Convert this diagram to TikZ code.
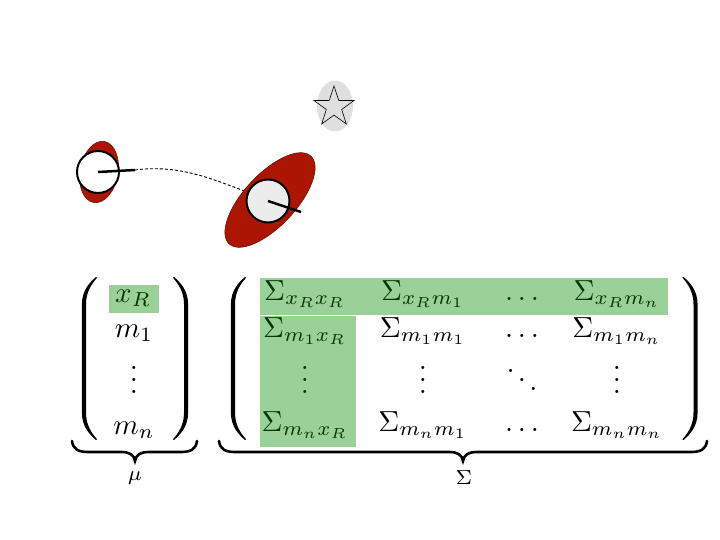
\documentclass[tikz,border=0pt]{standalone}
\usepackage{graphicx}
\usetikzlibrary{shapes.geometric}
\definecolor{robred}{RGB}{172,22,0}
\definecolor{robedge}{RGB}{95,12,0}
\definecolor{hl}{RGB}{0,141,0}
\newcommand{\BG}[1]{\scalebox{2.9}{$#1$}}
\newcommand{\myvd}{\vbox{\baselineskip4pt\lineskiplimit0pt\hbox{.}\hbox{.}\hbox{.}}}
\begin{document}
\begin{tikzpicture}[x=1pt,y=-1pt,
  ent/.style={anchor=base, inner sep=0pt, outer sep=0pt},
  lbl/.style={anchor=center, inner sep=0pt},
  hlbox/.style={fill=hl, fill opacity=0.4, draw=none},
  robellipse/.style={ellipse, draw=robedge, line width=0.5pt, fill=robred, inner sep=0pt},
  robbody/.style={circle, draw=black, line width=2pt, inner sep=0pt, minimum size=42pt},
  heading/.style={line width=2.5pt},
  trail/.style={dash pattern=on 3pt off 2pt, line width=0.9pt},
  bracestyle/.style={line width=2.6pt, line cap=round},
  lpar/.pic={\fill (6.5,-81.5) .. controls (0,-76) and (-7.6,-68) .. (-7.6,-54) -- (-7.6,54)
      .. controls (-7.6,68) and (0,76) .. (6.5,81.5) -- (7.6,80.8)
      .. controls (1.5,74) and (-3.5,66) .. (-3.5,54) -- (-3.5,-54)
      .. controls (-3.5,-66) and (1.5,-74) .. (7.6,-80.8) -- cycle;},
  rpar/.pic={\fill (-6.5,-81.5) .. controls (0,-76) and (7.6,-68) .. (7.6,-54) -- (7.6,54)
      .. controls (7.6,68) and (0,76) .. (-6.5,81.5) -- (-7.6,80.8)
      .. controls (-1.5,74) and (3.5,66) .. (3.5,54) -- (3.5,-54)
      .. controls (3.5,-66) and (-1.5,-74) .. (-7.6,-80.8) -- cycle;}]
\useasboundingbox (0,0) rectangle (720,540);

% landmark
\node[ellipse, fill=gray!25, minimum width=36pt, minimum height=51pt, inner sep=0pt] (lm) at (335,106) {};
\node[star, star points=5, star point ratio=2.6, draw, line width=0.6pt, minimum size=42pt, inner sep=0pt] (st) at (334,107) {};

% robot 1
\node[robellipse, minimum width=38pt, minimum height=62pt, rotate=-10] (e1) at (99,172) {};
\node[robbody, fill=white] (c1) at (98,172) {};
\coordinate (h1) at (135,170);
\draw[heading] (c1.center) -- (h1);

% trajectory
\coordinate (d2) at (252,194);
\draw[trail] (h1) .. controls (180,164) and (215,180) .. (d2);

% robot 2
\node[robellipse, minimum width=120pt, minimum height=52pt, rotate=47] (e2) at (270,200) {};
\node[robbody, fill=gray!15, minimum size=43pt] (c2) at (268,201) {};
\coordinate (h2) at (301,212);
\draw[heading] (c2.center) -- (h2);

% mu vector
\node[ent] (mx) at (133,302) {\BG{x_R}};
\node[ent] (m1) at (134,337) {\BG{m_1}};
\node[ent] (mv) at (134,393) {\BG{\myvd}};
\node[ent] (mn) at (134,434) {\BG{m_n}};
\pic at (89.5,358.5) {lpar};
\pic at (180.5,358.5) {rpar};
\coordinate (b1l) at (72,441);
\coordinate (b1r) at (197,441);
\coordinate (b1t) at (135,461);
\draw[bracestyle] (b1l) .. controls (73,449) and (78,452) .. (88,452) -- (121,452)
   .. controls (130,452) and (134,455) .. (b1t) .. controls (136,455) and (140,452) .. (149,452)
   -- (181,452) .. controls (191,452) and (196,449) .. (b1r);
\node[lbl] (mu) at (135,478) {\BG{\scriptstyle\mu}};

% Sigma matrix
\node[ent] (s11) at (305,300) {\BG{\Sigma_{x_R x_R}}};
\node[ent] (s12) at (423,300) {\BG{\Sigma_{x_R m_1}}};
\node[ent] (s13) at (522,300) {\BG{\dots}};
\node[ent] (s14) at (617,300) {\BG{\Sigma_{x_R m_n}}};
\node[ent] (s21) at (305,337) {\BG{\Sigma_{m_1 x_R}}};
\node[ent] (s22) at (423,337) {\BG{\Sigma_{m_1 m_1}}};
\node[ent] (s23) at (522,337) {\BG{\dots}};
\node[ent] (s24) at (617,337) {\BG{\Sigma_{m_1 m_n}}};
\node[ent] (s31) at (305,393) {\BG{\myvd}};
\node[ent] (s32) at (423,393) {\BG{\myvd}};
\node[ent] (s33) at (522,393) {\BG{\ddots}};
\node[ent] (s34) at (617,393) {\BG{\myvd}};
\node[ent] (s41) at (305,431) {\BG{\Sigma_{m_n x_R}}};
\node[ent] (s42) at (423,431) {\BG{\Sigma_{m_n m_1}}};
\node[ent] (s43) at (522,431) {\BG{\dots}};
\node[ent] (s44) at (617,431) {\BG{\Sigma_{m_n m_n}}};
\pic at (238.5,358.5) {lpar};
\pic at (690,358.5) {rpar};
\coordinate (b2l) at (219,441);
\coordinate (b2r) at (707,441);
\coordinate (b2t) at (463,461);
\draw[bracestyle] (b2l) .. controls (220,449) and (225,452) .. (235,452) -- (449,452)
   .. controls (458,452) and (462,455) .. (b2t) .. controls (464,455) and (468,452) .. (477,452)
   -- (691,452) .. controls (701,452) and (706,449) .. (b2r);
\node[lbl] (sg) at (464,478) {\BG{\scriptstyle\Sigma}};

% highlights
\fill[hlbox] (109,285) rectangle (159,313);
\fill[hlbox] (260,278) rectangle (668,315);
\fill[hlbox] (260,316) rectangle (356,447);
\end{tikzpicture}
\end{document}
